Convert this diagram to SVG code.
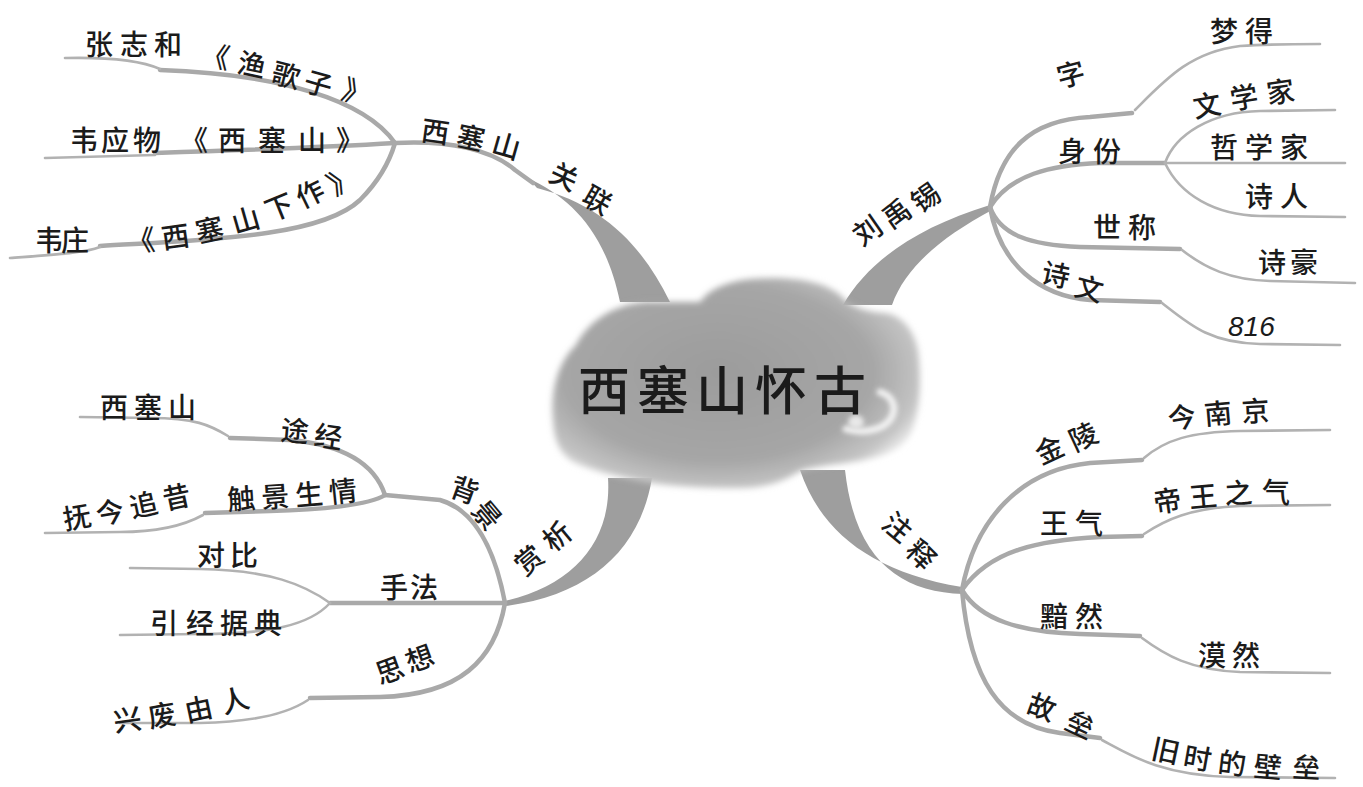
<svg xmlns="http://www.w3.org/2000/svg" width="1363" height="787" viewBox="0 0 1363 787">
<defs>
<style>
.t{font-family:"Noto Sans CJK SC","Noto Sans CJK JP",sans-serif;font-size:28px;font-weight:500;fill:#1b1b1b}
.in{fill:none;stroke:#a9a9a9;stroke-width:4.5;stroke-linecap:round;stroke-linejoin:round}
.out{fill:none;stroke:#b2b2b2;stroke-width:2.6;stroke-linecap:round;stroke-linejoin:round}
.thick{fill:#9e9e9e}
</style>
<radialGradient id="cg" cx="0.45" cy="0.45" r="0.6">
<stop offset="0" stop-color="#9c9c9c"/>
<stop offset="0.7" stop-color="#a6a6a6"/>
<stop offset="0.92" stop-color="#c4c4c4"/>
<stop offset="1" stop-color="#e6e6e6"/>
</radialGradient>
<filter id="soft" x="-10%" y="-10%" width="120%" height="120%">
<feGaussianBlur stdDeviation="3"/>
</filter>
<filter id="soft2" x="-40%" y="-40%" width="180%" height="180%">
<feGaussianBlur stdDeviation="2.5"/>
</filter>
</defs>
<rect width="1363" height="787" fill="#ffffff"/>

<g id="connectors">
<!-- top-left -->
<path class="thick" d="M528,178 C570,198 605,230 620,302 L670,302 C642,245 603,205 537,188 Z"/>
<path class="in" d="M395,143 C450,140 492,150 515,170 L533,183"/>
<path class="in" d="M160,70 C280,74 365,100 395,143"/>
<path class="out" d="M65,58 C110,57 140,60 160,69"/>
<path class="in" d="M155,153 C250,150 330,147 395,143"/>
<path class="out" d="M45,158 L155,155"/>
<path class="in" d="M100,246 C200,240 320,238 360,200 C380,180 390,160 395,143"/>
<path class="out" d="M10,258 C50,255 85,253 100,247"/>
<!-- top-right -->
<path class="thick" d="M843,305 C868,262 915,228 990,205 L992,210 C940,238 905,268 892,305 Z"/>
<path class="in" d="M990,207 C1000,150 1030,120 1090,117 L1132,113"/>
<path class="out" d="M1135,110 C1165,80 1190,52 1240,46 C1270,44 1300,44 1320,44"/>
<path class="in" d="M990,207 C1010,175 1050,165 1100,163 L1165,163"/>
<path class="out" d="M1165,163 C1175,135 1210,112 1260,111 L1335,110"/>
<path class="out" d="M1165,163 L1345,163"/>
<path class="out" d="M1165,163 C1180,195 1215,215 1260,216 L1345,217"/>
<path class="in" d="M990,207 C1000,235 1030,245 1080,247 L1180,249"/>
<path class="out" d="M1182,250 C1205,268 1230,280 1270,281 L1355,283"/>
<path class="in" d="M990,207 C1000,265 1040,296 1090,300 L1160,302"/>
<path class="out" d="M1162,303 C1190,325 1210,343 1260,344 L1340,345"/>
<!-- bottom-left -->
<path class="thick" d="M608,478 C612,540 575,585 505,601 L506,606 C590,595 640,550 652,478 Z"/>
<path class="in" d="M505,603 C495,550 475,510 440,500 L385,495"/>
<path class="in" d="M385,495 C375,465 345,445 290,440 L230,438"/>
<path class="out" d="M228,436 C210,425 195,418 150,418 L80,417"/>
<path class="in" d="M385,495 C370,505 320,510 270,511 L205,513"/>
<path class="out" d="M203,515 C185,525 160,532 120,532 L45,533"/>
<path class="in" d="M505,603 L330,603"/>
<path class="out" d="M330,603 C305,585 270,570 200,569 L130,568"/>
<path class="out" d="M330,603 C310,625 270,634 200,634 L120,635"/>
<path class="in" d="M505,603 C495,660 460,695 380,697 L310,698"/>
<path class="out" d="M308,700 C290,712 260,722 200,723 L120,723"/>
<!-- bottom-right -->
<path class="thick" d="M800,470 C820,530 870,572 962,587 L963,594 C900,592 855,560 845,470 Z"/>
<path class="in" d="M962,590 C975,520 1020,470 1090,463 L1142,460"/>
<path class="out" d="M1144,458 C1165,440 1190,432 1240,431 L1330,430"/>
<path class="in" d="M962,590 C990,550 1040,540 1100,537 L1142,536"/>
<path class="out" d="M1144,534 C1165,520 1190,508 1240,506 L1330,505"/>
<path class="in" d="M962,590 C980,620 1020,632 1080,634 L1140,636"/>
<path class="out" d="M1142,638 C1165,655 1190,670 1240,672 L1330,673"/>
<path class="in" d="M962,590 C970,680 1000,725 1060,733 L1100,738"/>
<path class="out" d="M1102,740 C1130,755 1160,775 1230,777 L1335,778"/>
</g>

<g id="center">
<path d="M553,420 C550,390 558,362 576,345 C588,322 612,305 645,302 L700,302 C708,290 725,282 750,279 C790,276 828,280 845,300 C855,308 868,312 885,313 C905,316 918,335 919,360 C921,385 920,415 910,435 C900,450 885,456 860,461 C840,464 815,466 800,471 C780,484 760,488 740,488 C700,488 670,486 645,482 C615,476 590,470 575,463 C560,455 554,440 553,420 Z" fill="url(#cg)" filter="url(#soft)"/>
<path d="M846,429 C860,433 880,432 890,420 C898,408 893,396 880,392" fill="none" stroke="#f2f2f2" stroke-width="7" stroke-linecap="round" filter="url(#soft2)"/>
<ellipse cx="856" cy="422" rx="8" ry="7" fill="#e8e8e8" filter="url(#soft2)"/>
<text class="t" x="578" y="410" style="font-size:52px;letter-spacing:7px">西塞山怀古</text>
</g>

<g id="n-guanlian"><text class="t" x="547 580" y="180 202" rotate="25 30">关联</text></g>
<g id="n-xisaishan1"><text class="t" x="420 455 490" y="140 145 152" rotate="8 12 16">西塞山</text></g>
<g id="n-zhang"><text class="t" x="85 120 154" y="55">张志和</text>
<text class="t" x="200 236 270 302 340" y="64 72 82 90 98" rotate="10 12 14 16 18">《渔歌子》</text></g>
<g id="n-wei1"><text class="t" x="70 101 133 180 218 258 298 336" y="151">韦应物《西塞山》</text></g>
<g id="n-wei2"><text class="t" x="35 61" y="251">韦庄</text>
<text class="t" x="128 163 198 235 270 302 335" y="252 249 243 234 222 209 196" rotate="-5 -8 -12 -16 -22 -26 -30">《西塞山下作》</text></g>

<g id="n-liu"><text class="t" x="862 891 920" y="247 230 214" rotate="-35 -35 -35">刘禹锡</text></g>
<g id="n-zi"><text class="t" x="1060" y="88" rotate="-15">字</text></g>
<g id="n-mengde"><text class="t" x="1210 1245" y="42">梦得</text></g>
<g id="n-shenfen"><text class="t" x="1058 1093" y="162">身份</text></g>
<g id="n-wenxuejia"><text class="t" x="1195 1232 1268" y="118 110 104" rotate="-10 -10 -8">文学家</text></g>
<g id="n-zhexuejia"><text class="t" x="1210 1245 1280" y="158">哲学家</text></g>
<g id="n-shiren"><text class="t" x="1245 1280" y="207">诗人</text></g>
<g id="n-shicheng"><text class="t" x="1093 1128" y="238">世称</text></g>
<g id="n-shihao"><text class="t" x="1258 1290" y="273">诗豪</text></g>
<g id="n-shiwen"><text class="t" x="1040 1073" y="282 295" rotate="12 15">诗文</text></g>
<g id="n-816"><text x="1228" y="336" style="font-family:'Liberation Sans',sans-serif;font-size:28px;font-style:italic;fill:#1b1b1b">816</text></g>

<g id="n-shangxi"><text class="t" x="525 553" y="577 553" rotate="-40 -40">赏析</text></g>
<g id="n-beijing"><text class="t" x="448 470" y="495 511" rotate="20 50">背景</text></g>
<g id="n-xisaishan2"><text class="t" x="100 134 168" y="418">西塞山</text></g>
<g id="n-tujing"><text class="t" x="280 313" y="440 445" rotate="5 8">途经</text></g>
<g id="n-chujing"><text class="t" x="228 262 296 330" y="510 508 506 503" rotate="-4 -4 -5 -6">触景生情</text></g>
<g id="n-fujin"><text class="t" x="65 98 132 165" y="530 525 518 510" rotate="-10 -10 -12 -12">抚今追昔</text></g>
<g id="n-shoufa"><text class="t" x="380 410" y="598">手法</text></g>
<g id="n-duibi"><text class="t" x="197 230" y="566">对比</text></g>
<g id="n-yinjing"><text class="t" x="150 186 220 254" y="634">引经据典</text></g>
<g id="n-sixiang"><text class="t" x="380 410" y="685 673" rotate="-20 -20">思想</text></g>
<g id="n-xingfei"><text class="t" x="115 150 187 224" y="732 728 722 714" rotate="-8 -10 -12 -15">兴废由人</text></g>

<g id="n-zhushi"><text class="t" x="880 904" y="526 552" rotate="40 45">注释</text></g>
<g id="n-jinling"><text class="t" x="1041 1075" y="465 452" rotate="-25 -25">金陵</text></g>
<g id="n-jinnanjing"><text class="t" x="1170 1205 1242" y="430 425 422" rotate="-10 -5 -3">今南京</text></g>
<g id="n-wangqi"><text class="t" x="1040 1075" y="534">王气</text></g>
<g id="n-diwang"><text class="t" x="1155 1190 1225 1262" y="513 508 504 503" rotate="-8 -5 -3 0">帝王之气</text></g>
<g id="n-anran"><text class="t" x="1040 1075" y="627">黯然</text></g>
<g id="n-moran"><text class="t" x="1198 1232" y="666">漠然</text></g>
<g id="n-gulei"><text class="t" x="1025 1063" y="712 728" rotate="20 25">故垒</text></g>
<g id="n-jiushi"><text class="t" x="1150 1182 1217 1253 1292" y="758 766 772 776 777" rotate="12 10 7 5 3">旧时的壁垒</text></g>
</svg>
